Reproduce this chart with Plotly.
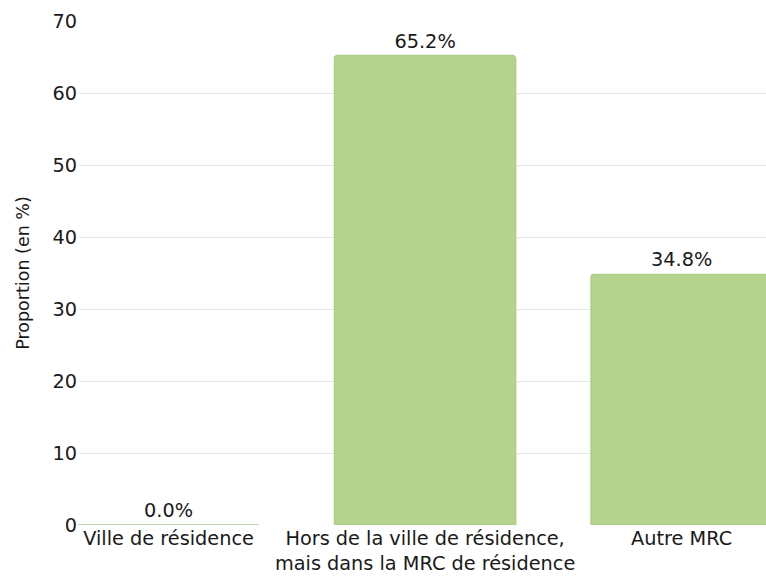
import plotly.graph_objects as go

categories = ["Ville de résidence", "Hors de la ville de résidence,<br>mais dans la MRC de résidence", "Autre MRC"]
values = [0.0, 65.2, 34.8]
labels = [f"{v:.1f}%" for v in values]
y_ticks = [0, 10, 20, 30, 40, 50, 60, 70]

fig = go.Figure(go.Bar(
    x=[0, 1, 2], y=values, text=labels, textposition="outside",
    textfont=dict(size=19.3, color="#1a1a1a"),
    marker=dict(color="#b5d28f", line=dict(color="#afce86", width=1.5), cornerradius=3),
    width=0.706, cliponaxis=False,
))
fig.update_layout(
    width=766, height=578, margin=dict(l=78, r=0, t=21, b=53),
    plot_bgcolor="white", paper_bgcolor="white",
    font=dict(family="DejaVu Sans", size=19.3, color="#1a1a1a"),
    showlegend=False,
)
fig.update_xaxes(range=[-0.353, 2.329], tickvals=[0, 1, 2], ticktext=categories,
                 showgrid=False, zeroline=False, showline=False, automargin=False,
                 ticks="", tickfont=dict(size=19.3))
fig.update_yaxes(range=[0, 70], tickvals=y_ticks, showgrid=True, gridcolor="#e6e6e6",
                 zeroline=False, ticks="", ticklen=0, tickfont=dict(size=19.3), automargin=False,
                 title=dict(text="Proportion (en %)", font=dict(size=17.5), standoff=18))
fig.write_html("out.html", config={"displayModeBar": False},
               post_script="document.body.style.margin='0';document.body.style.overflow='hidden';")
